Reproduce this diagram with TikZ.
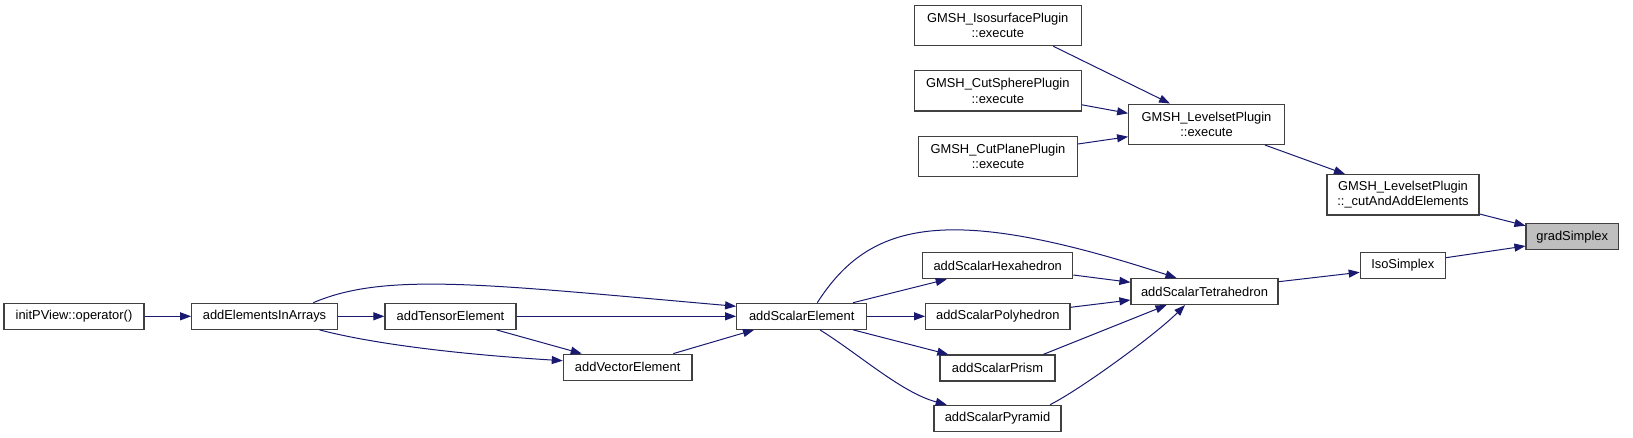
\documentclass[tikz,border=0pt]{standalone}
\usepackage{fontspec}
\setmainfont{Liberation Sans}
\usetikzlibrary{arrows.meta}

\definecolor{edgeblue}{HTML}{191970}
\definecolor{boxgrey}{HTML}{404040}
\definecolor{hlgrey}{HTML}{BFBFBF}

\tikzset{
  fn/.style={draw=boxgrey, line width=1.2pt, fill=white, minimum height=26pt,
    inner sep=0pt, align=center, font=\fontsize{12.9}{15.5}\selectfont},
  fntwo/.style={fn, minimum height=40.3pt},
  call/.style={draw=edgeblue, line width=1pt, -{Triangle[length=11pt,width=8pt]}},
}

\begin{document}
\begin{tikzpicture}[x=1pt,y=-1pt]
  \useasboundingbox (0,0) rectangle (1633,437);

  % functions
  \node[fn, minimum width=140pt]   (init)    at (74,316.3)     {initPView::operator()};
  \node[fn, minimum width=145.6pt] (elems)   at (264.5,316.3)  {addElementsInArrays};
  \node[fn, minimum width=131pt]   (tensor)  at (450.5,316.3)  {addTensorElement};
  \node[fn, minimum width=128.7pt] (vector)  at (627.7,367.2)  {addVectorElement};
  \node[fn, minimum width=130pt]   (scalar)  at (801.7,316.3)  {addScalarElement};
  \node[fn, minimum width=150pt]   (hexa)    at (997.7,265.7)  {addScalarHexahedron};
  \node[fn, minimum width=144.3pt] (poly)    at (997.8,316.3)  {addScalarPolyhedron};
  \node[fn, minimum width=115pt]   (prism)   at (997.5,368)    {addScalarPrism};
  \node[fn, minimum width=127pt]   (pyra)    at (997.5,418.3)  {addScalarPyramid};
  \node[fn, minimum width=147pt]   (tetra)   at (1204.5,291.5) {addScalarTetrahedron};
  \node[fn, minimum width=85pt]    (iso)     at (1402.8,265.3) {IsoSimplex};
  \node[fn, minimum width=92.3pt, fill=hlgrey] (grad) at (1572.2,236.7) {gradSimplex};
  \node[fntwo, minimum width=152pt]   (cut)     at (1403,194.8)  {GMSH\_LevelsetPlugin\\::\_cutAndAddElements};
  \node[fntwo, minimum width=155.6pt] (lvl)     at (1206.5,124.3) {GMSH\_LevelsetPlugin\\::execute};
  \node[fntwo, minimum width=167pt]   (isosurf) at (997.8,25.5)  {GMSH\_IsosurfacePlugin\\::execute};
  \node[fntwo, minimum width=167pt]   (sphere)  at (997.8,90.8)  {GMSH\_CutSpherePlugin\\::execute};
  \node[fntwo, minimum width=158.6pt] (plane)   at (998,156.3)   {GMSH\_CutPlanePlugin\\::execute};

  % calls, left part
  \draw[call] (init) -- (elems);
  \draw[call] (elems) -- (tensor);
  \draw[call] (tensor) -- (scalar);
  \draw[call] ([xshift=48.8pt]elems.north) .. controls +(72,-31) and +(-250,-22) .. ([yshift=10pt]scalar.west);
  \draw[call] ([xshift=55pt]elems.south) .. controls +(50,13) and +(-113,-7) .. ([yshift=6.5pt]vector.west);
  \draw[call] ([xshift=46pt]tensor.south) -- ([xshift=-46pt]vector.north);
  \draw[call] ([xshift=45.6pt]vector.north) -- ([xshift=-47.7pt]scalar.south);

  % calls, middle part
  \draw[call] (scalar) -- (poly);
  \draw[call] ([xshift=51.3pt]scalar.north) -- ([xshift=-51pt]hexa.south);
  \draw[call] ([xshift=51.6pt]scalar.south) -- ([xshift=-49.2pt]prism.north);
  \draw[call] ([xshift=18.3pt]scalar.south) .. controls +(40,25) and +(-45,-12) .. ([xshift=-50.8pt]pyra.north);
  \draw[call] ([xshift=15.6pt]scalar.north) .. controls +(53,-83) and +(-227,-74) .. ([xshift=-28pt]tetra.north);
  \draw[call] ([yshift=-9.3pt]hexa.east) -- ([yshift=9.2pt]tetra.west);
  \draw[call] ([yshift=9pt]poly.east) -- ([yshift=-8.5pt]tetra.west);
  \draw[call] ([xshift=45.8pt]prism.north) -- ([xshift=-38pt]tetra.south);
  \draw[call] ([xshift=52.5pt]pyra.north) .. controls +(30,-15) and +(-30,30) .. ([xshift=-19.5pt]tetra.south);

  % calls, right part
  \draw[call] ([yshift=9.8pt]tetra.east) -- ([yshift=-7pt]iso.west);
  \draw[call] ([yshift=7.6pt]iso.east) -- ([yshift=-9.3pt]grad.west);
  \draw[call] ([yshift=-19.2pt]cut.east) -- ([yshift=11pt]grad.west);
  \draw[call] ([xshift=58.5pt]lvl.south) -- ([xshift=-58pt]cut.north);
  \draw[call] ([xshift=55.5pt]isosurf.south) -- ([xshift=-36.5pt]lvl.north);
  \draw[call] ([yshift=-14pt]sphere.east) -- ([yshift=11pt]lvl.west);
  \draw[call] ([yshift=12.3pt]plane.east) -- ([yshift=-12.4pt]lvl.west);
\end{tikzpicture}
\end{document}
